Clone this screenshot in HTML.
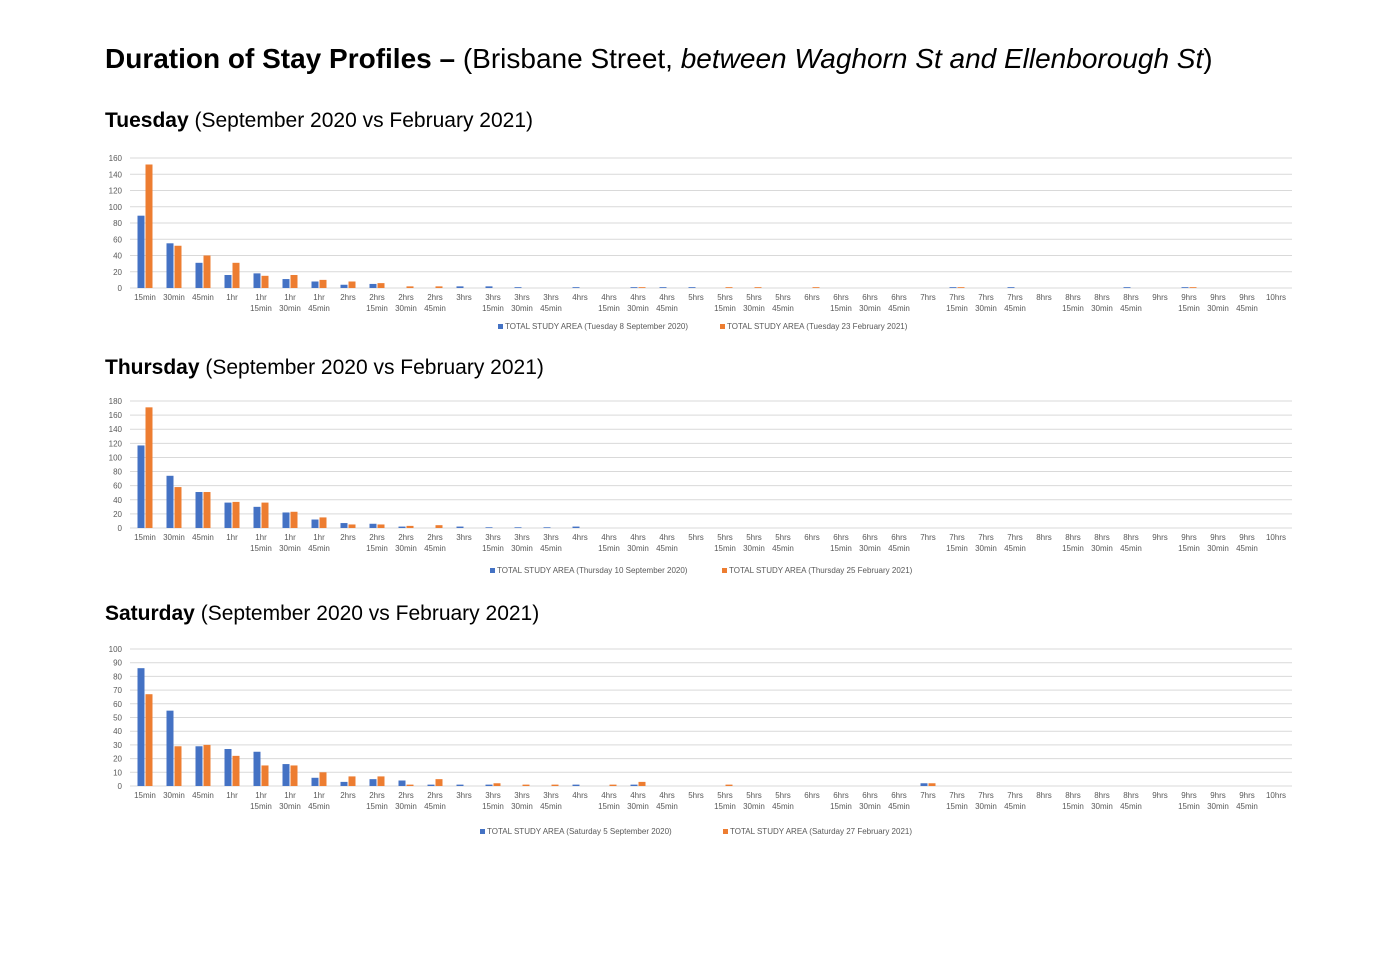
<!DOCTYPE html>
<html><head><meta charset="utf-8"><style>
body{margin:0;background:#fff;font-family:"Liberation Sans",sans-serif;}
#wrap{position:relative;width:1399px;height:979px;overflow:hidden}
.h{position:absolute;left:105px;color:#000;white-space:nowrap}
</style></head><body><div id="wrap">
<div class="h" style="top:43px;font-size:28px"><b>Duration of Stay Profiles –</b> (Brisbane Street, <i>between Waghorn St and Ellenborough St</i>)</div>
<div class="h" style="top:109px;font-size:21px"><b>Tuesday</b> (September 2020 vs February 2021)</div>
<div class="h" style="top:356px;font-size:21px"><b>Thursday</b> (September 2020 vs February 2021)</div>
<div class="h" style="top:602px;font-size:21px"><b>Saturday</b> (September 2020 vs February 2021)</div>
<svg id="svg" width="1399" height="979" style="position:absolute;left:0;top:0"></svg>
</div>
<script>
const categories=[["15min"],["30min"],["45min"],["1hr"],["1hr","15min"],["1hr","30min"],["1hr","45min"],["2hrs"],["2hrs","15min"],["2hrs","30min"],["2hrs","45min"],["3hrs"],["3hrs","15min"],["3hrs","30min"],["3hrs","45min"],["4hrs"],["4hrs","15min"],["4hrs","30min"],["4hrs","45min"],["5hrs"],["5hrs","15min"],["5hrs","30min"],["5hrs","45min"],["6hrs"],["6hrs","15min"],["6hrs","30min"],["6hrs","45min"],["7hrs"],["7hrs","15min"],["7hrs","30min"],["7hrs","45min"],["8hrs"],["8hrs","15min"],["8hrs","30min"],["8hrs","45min"],["9hrs"],["9hrs","15min"],["9hrs","30min"],["9hrs","45min"],["10hrs"]];
const tueSep=[89,55,31,16,18,11,8,4,5,0,0,2,2,1,0,1,0,1,1,1,0,0,0,0,0,0,0,0,1,0,1,0,0,0,1,0,1,0,0,0];
const tueFeb=[152,52,40,31,15,16,10,8,6,2,2,0,0,0,0,0,0,1,0,0,1,1,0,1,0,0,0,0,1,0,0,0,0,0,0,0,1,0,0,0];
const thuSep=[117,74,51,36,30,22,12,7,6,2,0,2,1,1,1,2,0,0,0,0,0,0,0,0,0,0,0,0,0,0,0,0,0,0,0,0,0,0,0,0];
const thuFeb=[171,58,51,37,36,23,15,5,5,3,4,0,0,0,0,0,0,0,0,0,0,0,0,0,0,0,0,0,0,0,0,0,0,0,0,0,0,0,0,0];
const satSep=[86,55,29,27,25,16,6,3,5,4,1,1,1,0,0,1,0,1,0,0,0,0,0,0,0,0,0,2,0,0,0,0,0,0,0,0,0,0,0,0];
const satFeb=[67,29,30,22,15,15,10,7,7,1,5,0,2,1,1,0,1,3,0,0,1,0,0,0,0,0,0,2,0,0,0,0,0,0,0,0,0,0,0,0];
const tueTicks=[0,20,40,60,80,100,120,140,160];
const thuTicks=[0,20,40,60,80,100,120,140,160,180];
const satTicks=[0,10,20,30,40,50,60,70,80,90,100];
const NS="http://www.w3.org/2000/svg",svg=document.getElementById('svg');
function mk(t,a,p){const e=document.createElementNS(NS,t);for(const k in a)e.setAttribute(k,a[k]);(p||svg).appendChild(e);return e;}
function chart(name,y0,y1,ticks,s1,s2,l1,l2,legY,l1x,l2x){
 const g=mk('g',{});
 
 
 const max=ticks[ticks.length-1],x0=130.5,cw=29;
 const Y=v=>y0-(v/max)*(y0-y1),X=i=>x0+cw*i+cw/2;
 ticks.forEach(t=>{
  const ln=mk('line',{x1:130,x2:1292,y1:Y(t),y2:Y(t),stroke:'#d9d9d9','stroke-width':1},g);
  
  
  const tx=mk('text',{x:122,y:Y(t)+3,'text-anchor':'end','font-size':8,fill:'#595959'},g);tx.textContent=t;
  
  
 });
 categories.forEach((c,i)=>{
  c.forEach((s,k)=>{const tx=mk('text',{x:X(i),y:y0+12+k*11,'text-anchor':'middle','font-size':8,fill:'#595959'},g);tx.textContent=s;
  
  });
  [[s1,'#4472c4',-7.5],[s2,'#ed7d31',0.5]].forEach(([s,col,off])=>{
   const v=s[i];if(!v)return;
   const r=mk('rect',{x:X(i)+off,y:Y(v),width:7,height:y0-Y(v),fill:col},g);
   
   
  });
 });
 [[l1,'#4472c4',l1x],[l2,'#ed7d31',l2x]].forEach(([t,col,x])=>{
  const r=mk('rect',{x:x,y:legY-4,width:5,height:5,fill:col},g);
  
  
  const tx=mk('text',{x:x+7,y:legY+1,'font-size':8,fill:'#595959'},g);tx.textContent=t;
  
  
 });
}
chart('tuesday',288,158,tueTicks,tueSep,tueFeb,'TOTAL STUDY AREA (Tuesday 8 September 2020)','TOTAL STUDY AREA (Tuesday 23 February 2021)',328,498,720);
chart('thursday',528,401,thuTicks,thuSep,thuFeb,'TOTAL STUDY AREA (Thursday 10 September 2020)','TOTAL STUDY AREA (Thursday 25 February 2021)',572,490,722);
chart('saturday',786,649,satTicks,satSep,satFeb,'TOTAL STUDY AREA (Saturday 5 September 2020)','TOTAL STUDY AREA (Saturday 27 February 2021)',833,480,723);
</script></body></html>
